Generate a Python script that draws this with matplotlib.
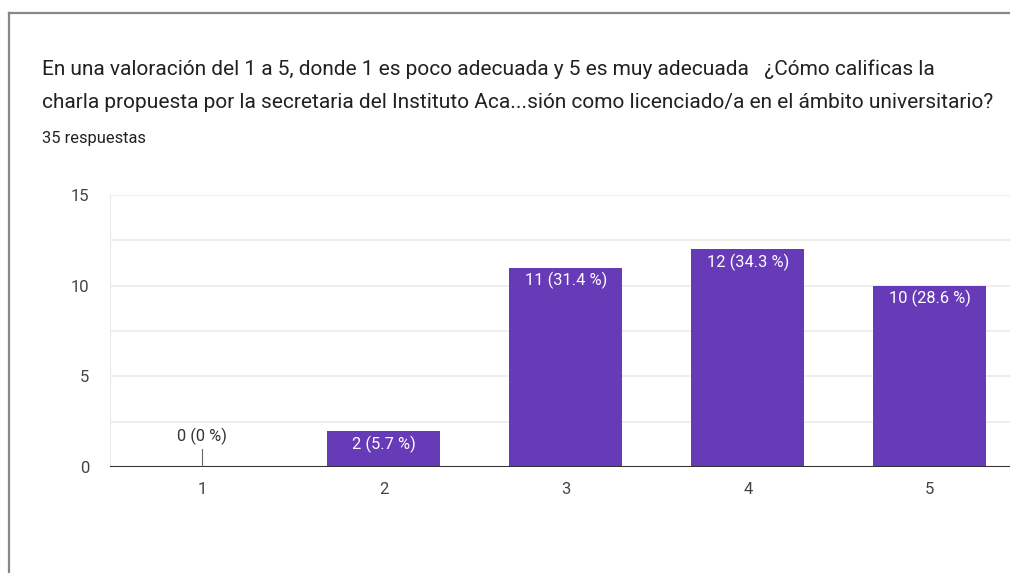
import matplotlib.pyplot as plt
from matplotlib.lines import Line2D

plt.rcParams['font.family'] = ['Roboto', 'DejaVu Sans']

# datos de la encuesta
categorias = ['1', '2', '3', '4', '5']
respuestas = [0, 2, 11, 12, 10]
porcentajes = ['0 %', '5.7 %', '31.4 %', '34.3 %', '28.6 %']
total = 35

titulo = ('En una valoración del 1 a 5, donde 1 es poco adecuada y 5 es muy adecuada   ¿Cómo calificas la\n'
          'charla propuesta por la secretaria del Instituto Aca...sión como licenciado/a en el ámbito universitario?')

morado = '#673ab7'

fig = plt.figure(figsize=(10.1, 5.73), dpi=100)
ax = fig.add_axes([110 / 1010, 1 - 467 / 573, 1 - 110 / 1010, (467 - 195) / 573])

x = list(range(1, len(categorias) + 1))
ax.bar(x, respuestas, width=0.62, color=morado, zorder=3)

ax.set_xlim(0.495, 5.44)
ax.set_ylim(0, 15)
ax.set_yticks([0, 5, 10, 15])
ax.set_yticks([2.5, 7.5, 12.5], minor=True)
ax.set_xticks(x)
ax.set_xticklabels(categorias)
ax.grid(axis='y', which='both', color='#ebebeb', linewidth=1.2, zorder=0)
ax.tick_params(axis='both', which='both', length=0, labelsize=12, labelcolor='#444444')
ax.tick_params(axis='x', pad=11)
ax.tick_params(axis='y', pad=15)
for s in ['top', 'right', 'bottom']:
    ax.spines[s].set_visible(False)
ax.spines['left'].set_color('#ebebeb')
ax.axhline(0, color='#333333', linewidth=1.5, zorder=4)

# etiquetas de cada barra
for xi, v, p in zip(x, respuestas, porcentajes):
    etiqueta = f'{v} ({p})'
    if v == 0:
        ax.plot([xi, xi], [0, 1.0], color='#666666', linewidth=0.8, zorder=4)
        ax.text(xi, 1.2, etiqueta, ha='center', va='bottom', fontsize=11.8, color='#333333')
    else:
        ax.text(xi, v - 0.25, etiqueta, ha='center', va='top', fontsize=11.8, color='white', zorder=5)

# título y número de respuestas
fig.text(42 / 1010, 1 - 59 / 573, titulo, ha='left', va='top', fontsize=15,
         color='#202124', linespacing=1.95)
fig.text(42 / 1010, 1 - 138 / 573, f'{total} respuestas', ha='left', va='center',
         fontsize=11.8, color='#202124')

# marco de la tarjeta
fig.add_artist(Line2D([9 / 1010, 9 / 1010], [0, 1 - 13 / 573], color='#888888', linewidth=1.6))
fig.add_artist(Line2D([9 / 1010, 1], [1 - 13 / 573, 1 - 13 / 573], color='#888888', linewidth=1.6))

fig.savefig('out.png', dpi=100)
